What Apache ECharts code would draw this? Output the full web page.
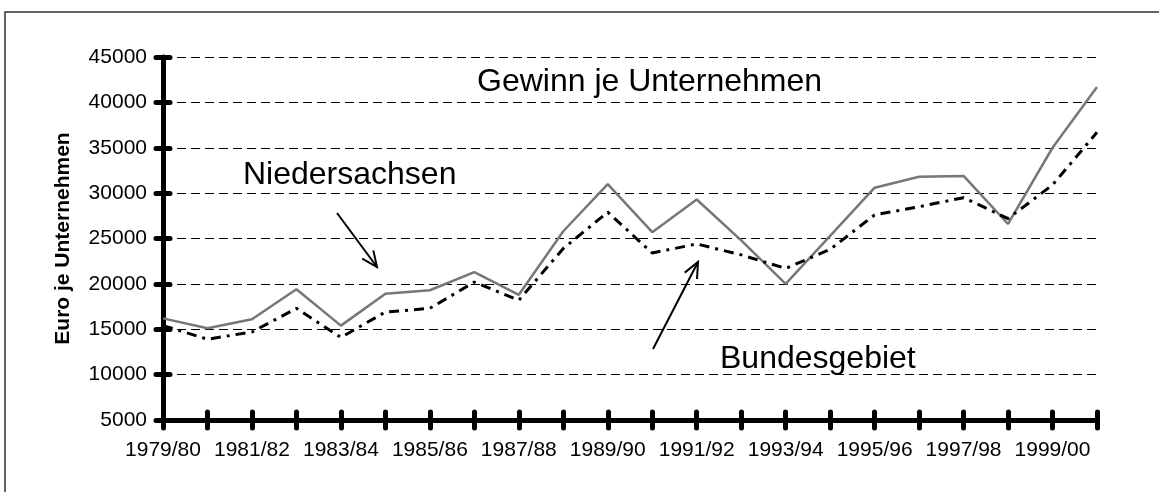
<!DOCTYPE html>
<html>
<head>
<meta charset="utf-8">
<script src="https://cdn.jsdelivr.net/npm/echarts@6/dist/echarts.min.js"></script>
<style>
  html, body { margin: 0; padding: 0; background: #fff; }
  #chart { width: 1159px; height: 492px; }
</style>
</head>
<body>
<div id="chart"></div>
<script>
const years = ['1979/80', '1980/81', '1981/82', '1982/83', '1983/84', '1984/85', '1985/86', '1986/87',
  '1987/88', '1988/89', '1989/90', '1990/91', '1991/92', '1992/93', '1993/94', '1994/95',
  '1995/96', '1996/97', '1997/98', '1998/99', '1999/00', '2000/01']
const niedersachsen = [16200, 15100, 16100, 19400, 15400, 18900, 19300, 21300, 18800, 25800, 31000,
  25700, 29300, 24800, 20000, 25300, 30600, 31800, 31900, 26600, 35000, 41700]
const bundesgebiet = [15400, 13900, 14700, 17300, 14100, 16900, 17300, 20200, 18200, 23900, 27900,
  23400, 24400, 23200, 21700, 23800, 27600, 28500, 29500, 27200, 30900, 36700]

const font = 'Arial, "Liberation Sans", sans-serif'

// arrow = shaft + open head, from (x1,y1) to tip (x2,y2)
function arrow(x1, y1, x2, y2) {
  const len = Math.hypot(x2 - x1, y2 - y1)
  const ux = (x1 - x2) / len, uy = (y1 - y2) / len
  const h = 17, a = 24 * Math.PI / 180
  const rot = (s) => [x2 + h * (ux * Math.cos(s) - uy * Math.sin(s)), y2 + h * (ux * Math.sin(s) + uy * Math.cos(s))]
  const st = { stroke: '#000', lineWidth: 2, fill: null }
  return [
    { type: 'line', shape: { x1, y1, x2, y2 }, style: st, z: 10 },
    { type: 'polyline', shape: { points: [rot(a), [x2, y2], rot(-a)] }, style: st, z: 10 }
  ]
}

function label(text, x, y) {
  return { type: 'text', x, y, z: 10,
    style: { text, fill: '#000', font: '32px ' + font, textVerticalAlign: 'middle' } }
}

const chart = echarts.init(document.getElementById('chart'))
const grid = { left: 163, right: 62, top: 57, bottom: 72 }

chart.setOption({
  backgroundColor: '#fff',
  animation: false,
  grid,
  xAxis: [{
    type: 'category', data: years, boundaryGap: false, position: 'bottom',
    axisLine: { lineStyle: { color: '#000', width: 5 } },
    axisTick: { length: 8, interval: 0, lineStyle: { color: '#000', width: 5, cap: 'round' } },
    axisLabel: { interval: 1, margin: 20, color: '#000', fontSize: 21, fontFamily: font },
    splitLine: { show: false }
  }, {
    type: 'category', data: years, boundaryGap: false, position: 'bottom',
    axisLine: { show: false },
    axisTick: { inside: true, length: 8, interval: 0, lineStyle: { color: '#000', width: 5, cap: 'round' } },
    axisLabel: { show: false }, splitLine: { show: false }
  }],
  yAxis: [{
    type: 'value', min: 5000, max: 45000, interval: 5000, position: 'left',
    name: 'Euro je Unternehmen', nameLocation: 'middle', nameGap: 89, nameRotate: 90,
    nameTextStyle: { color: '#000', fontSize: 21, fontWeight: 'bold', fontFamily: font },
    axisLine: { show: true, lineStyle: { color: '#000', width: 5 } },
    axisTick: { show: true, length: 7, lineStyle: { color: '#000', width: 5, cap: 'round' } },
    axisLabel: { margin: 16, color: '#000', fontSize: 21, fontFamily: font, formatter: (v) => String(v) },
    splitLine: { show: true, lineStyle: { color: '#000', width: 1, type: [9, 5] } }
  }, {
    type: 'value', min: 5000, max: 45000, interval: 5000, position: 'left',
    axisLine: { show: false },
    axisTick: { show: true, inside: true, length: 7, lineStyle: { color: '#000', width: 5, cap: 'round' } },
    axisLabel: { show: false }, splitLine: { show: false }
  }],
  series: [{
    name: 'Niedersachsen', type: 'line', data: niedersachsen, symbol: 'none', z: 3,
    lineStyle: { color: '#777', width: 2.5 }
  }, {
    name: 'Bundesgebiet', type: 'line', data: bundesgebiet, symbol: 'none', z: 4,
    lineStyle: { color: '#000', width: 3, type: [10, 6, 3, 6] }
  }],
  graphic: [
    { type: 'rect', shape: { x: 5, y: 12, width: 1300, height: 700 }, z: -1, silent: true,
      style: { fill: null, stroke: '#333', lineWidth: 1.5 } },
    label('Gewinn je Unternehmen', 477, 82),
    label('Niedersachsen', 243, 175),
    label('Bundesgebiet', 720, 359),
    // the reference clips the descenders of this label at the 10000 line
    { type: 'rect', shape: { x: 715, y: 375.5, width: 215, height: 16 }, z: 11, style: { fill: '#fff' } },
    ...arrow(337, 213, 377, 267),
    ...arrow(653, 349, 698, 262)
  ]
})
</script>
</body>
</html>
